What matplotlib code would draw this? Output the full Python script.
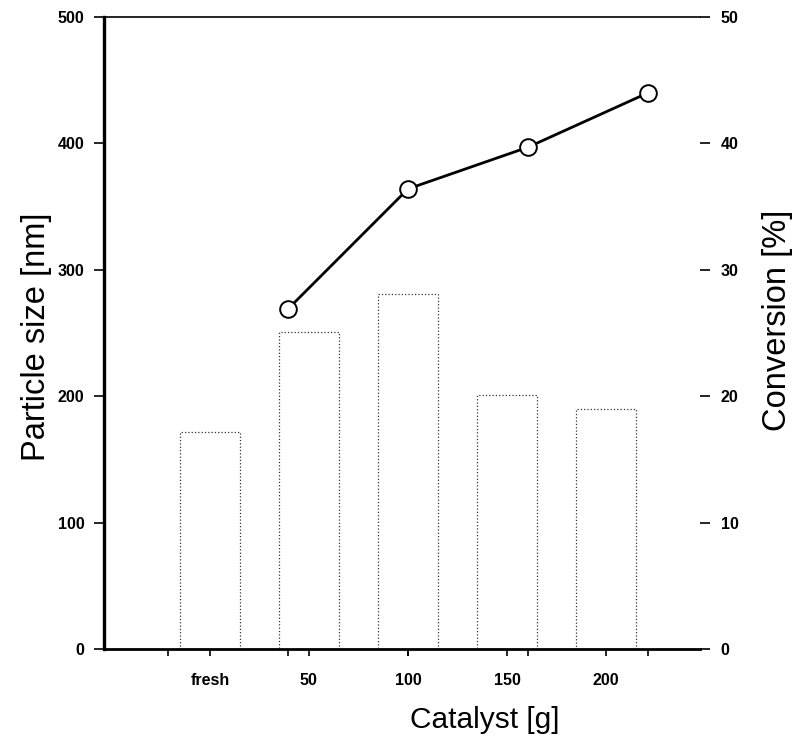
import matplotlib
matplotlib.use("Agg")
import matplotlib.pyplot as plt

plt.rcParams['font.family'] = ['Liberation Sans', 'DejaVu Sans']

# ---- data ----
categories = ["fresh", "50", "100", "150", "200"]
particle_size = [172, 251, 281, 201, 190]          # nm (bars, left axis)
catalyst_g = [50, 100, 150, 200]                    # g (line x)
conversion = [26.9, 36.4, 39.7, 44.0]               # % (line, right axis)
left_ticks = [0, 100, 200, 300, 400, 500]
right_ticks = [0, 10, 20, 30, 40, 50]
gram_ticks = [0, 50, 100, 150, 200]

W, H = 799, 747
fig = plt.figure(figsize=(W / 100, H / 100), dpi=100)
L, R, B, T = 104, 700, 649, 17
pos = [L / W, (H - B) / H, (R - L) / W, (B - T) / H]

ax = fig.add_axes(pos)
xs = list(range(len(categories)))
ax.bar(xs, particle_size, width=0.6, facecolor="white", edgecolor="#333333",
       linewidth=0.9, linestyle=":")
ax.set_xlim(-1.07, 4.95)
ax.set_ylim(0, 500)
ax.set_yticks(left_ticks)
ax.set_yticklabels([str(t) for t in left_ticks], fontsize=11.5, fontweight="bold")
ax.set_xticks(xs)
ax.set_xticklabels(categories, fontsize=11.5, fontweight="bold")
ax.tick_params(axis="x", direction="out", length=5, width=1.2, pad=12)
ax.tick_params(axis="y", direction="out", length=7, width=1.2, pad=7)
ax.spines["left"].set_linewidth(2.4)
ax.spines["bottom"].set_linewidth(2.0)
ax.spines["top"].set_linewidth(1.2)
ax.spines["right"].set_visible(False)
ax.set_ylabel("Particle size [nm]", fontsize=23.5)
ax.yaxis.set_label_coords((52 - L) / (R - L), (B - 337) / (B - T))
ax.set_xlabel("Catalyst [g]", fontsize=21.5)
ax.xaxis.set_label_coords((485 - L) / (R - L), -0.09)

# second axes: grams on x, conversion on right y
ax2 = fig.add_axes(pos, frameon=False)
ax2.plot(catalyst_g, conversion, color="black", linewidth=2.0, marker="o",
         markersize=12, markerfacecolor="white", markeredgecolor="black",
         markeredgewidth=1.4, zorder=5)
ax2.set_xlim((L - 168) / 2.4, (R - 168) / 2.4)
ax2.set_ylim(0, 50)
ax2.set_xticks(gram_ticks)
ax2.set_xticklabels([])
ax2.tick_params(axis="x", direction="out", length=5, width=1.2, bottom=True, top=False)
ax2.yaxis.tick_right()
ax2.yaxis.set_label_position("right")
ax2.set_yticks(right_ticks)
ax2.set_yticklabels([str(t) for t in right_ticks], fontsize=11.5, fontweight="bold")
ax2.tick_params(axis="y", direction="out", length=7, width=1.2, pad=8)
ax2.spines["right"].set_visible(True)
ax2.spines["right"].set_linewidth(2.2)
ax2.set_ylabel("Conversion [%]", fontsize=23.5)
ax2.yaxis.set_label_coords((762 - L) / (R - L), (B - 320) / (B - T))

fig.savefig("out.png", dpi=100)
